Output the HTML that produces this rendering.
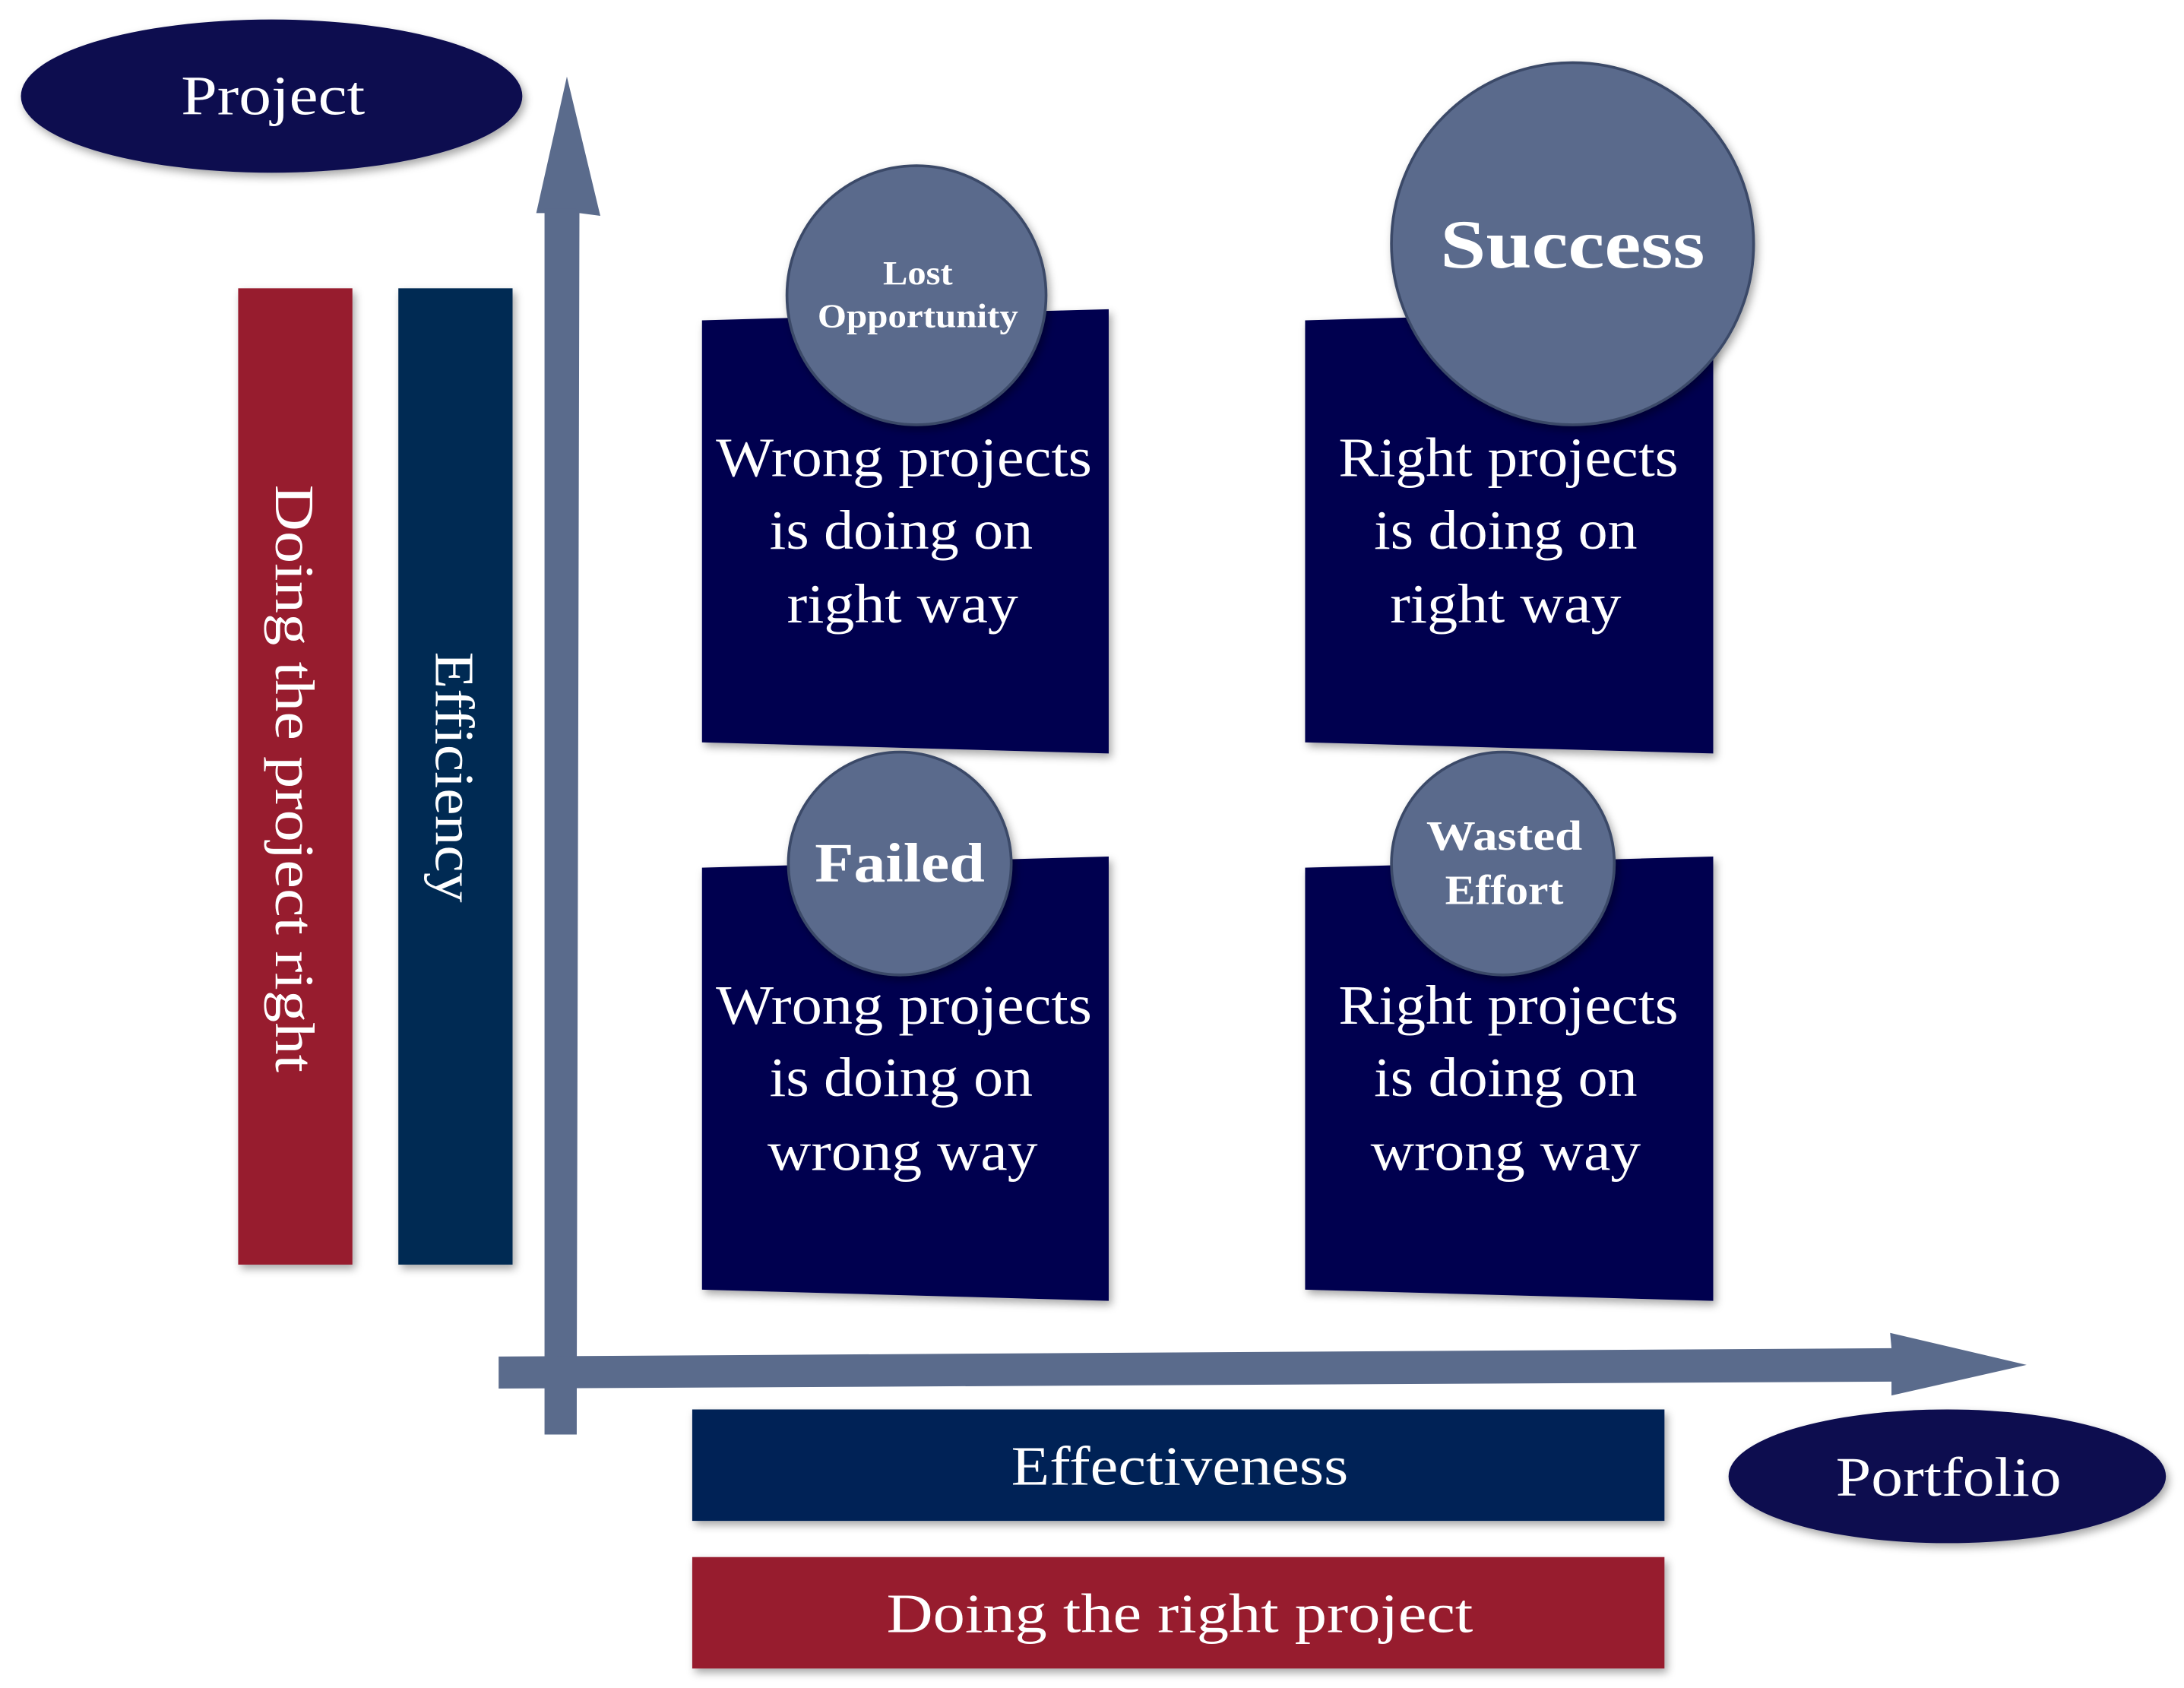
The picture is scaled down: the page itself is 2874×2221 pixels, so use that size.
<!DOCTYPE html>
<html><head><meta charset="utf-8"><style>
html,body{margin:0;padding:0;background:#fff;}
svg{display:block;}
text{font-family:"Liberation Serif",serif;fill:#fff;}
</style></head><body>
<svg width="2874" height="2221" viewBox="0 0 1568 1212" preserveAspectRatio="none" xmlns="http://www.w3.org/2000/svg">
<defs>
<filter id="sh" x="-20%" y="-20%" width="140%" height="140%"><feDropShadow dx="2" dy="3" stdDeviation="3" flood-color="#000" flood-opacity="0.35"/></filter>
</defs>
<ellipse cx="195" cy="69" rx="180" ry="55" fill="#0c1050" filter="url(#sh)"/>
<text x="196" y="82" font-size="40" text-anchor="middle" textLength="132" lengthAdjust="spacingAndGlyphs">Project</text>
<rect x="171" y="207" width="82" height="701" fill="#971b2f" filter="url(#sh)"/>
<text transform="translate(198,559) rotate(90)" font-size="40" text-anchor="middle" textLength="422" lengthAdjust="spacingAndGlyphs">Doing the project right</text>
<rect x="286" y="207" width="82" height="701" fill="#062a52" filter="url(#sh)"/>
<text transform="translate(313,558) rotate(90)" font-size="40" text-anchor="middle" textLength="180" lengthAdjust="spacingAndGlyphs">Efficiency</text>
<polygon points="391,1030 414,1030 416,153 431,155 407,55 385,153 398,153 391,153" fill="#5a6b8c"/>
<rect x="391" y="150" width="23" height="880" fill="#5a6b8c"/>
<polygon points="358,974 1358,968 1357,957 1455,980 1358,1002 1358,992 358,997" fill="#5a6b8c"/>
<polygon points="504,230 796,222 796,541 504,533" fill="#030550" filter="url(#sh)"/>
<polygon points="937,230 1230,222 1230,541 937,533" fill="#030550" filter="url(#sh)"/>
<polygon points="504,623 796,615 796,934 504,926" fill="#030550" filter="url(#sh)"/>
<polygon points="937,623 1230,615 1230,934 937,926" fill="#030550" filter="url(#sh)"/>
<g font-size="40" text-anchor="middle" lengthAdjust="spacingAndGlyphs">
<text x="649" y="342" textLength="270" lengthAdjust="spacingAndGlyphs">Wrong projects</text><text x="647" y="394" textLength="189" lengthAdjust="spacingAndGlyphs">is doing on</text><text x="648" y="447" textLength="166" lengthAdjust="spacingAndGlyphs">right way</text>
<text x="1083" y="342" textLength="244" lengthAdjust="spacingAndGlyphs">Right projects</text><text x="1081" y="394" textLength="189" lengthAdjust="spacingAndGlyphs">is doing on</text><text x="1081" y="447" textLength="166" lengthAdjust="spacingAndGlyphs">right way</text>
<text x="649" y="735" textLength="270" lengthAdjust="spacingAndGlyphs">Wrong projects</text><text x="647" y="787" textLength="189" lengthAdjust="spacingAndGlyphs">is doing on</text><text x="648" y="840" textLength="194" lengthAdjust="spacingAndGlyphs">wrong way</text>
<text x="1083" y="735" textLength="244" lengthAdjust="spacingAndGlyphs">Right projects</text><text x="1081" y="787" textLength="189" lengthAdjust="spacingAndGlyphs">is doing on</text><text x="1081" y="840" textLength="194" lengthAdjust="spacingAndGlyphs">wrong way</text>
</g>
<g fill="#5a6a8c" stroke="#3b4a68" stroke-width="2" filter="url(#sh)">
<circle cx="658" cy="212" r="93"/>
<circle cx="1129" cy="175" r="130"/>
<circle cx="646" cy="620" r="80"/>
<circle cx="1079" cy="620" r="80"/>
</g>
<g font-weight="bold" text-anchor="middle">
<text x="659" y="204" font-size="24" textLength="50" lengthAdjust="spacingAndGlyphs">Lost</text>
<text x="659" y="235" font-size="24" textLength="144" lengthAdjust="spacingAndGlyphs">Opportunity</text>
<text x="1129" y="192" font-size="50" textLength="190" lengthAdjust="spacingAndGlyphs">Success</text>
<text x="646" y="633" font-size="40" textLength="122" lengthAdjust="spacingAndGlyphs">Failed</text>
<text x="1080" y="610" font-size="30" textLength="112" lengthAdjust="spacingAndGlyphs">Wasted</text>
<text x="1080" y="649" font-size="30" textLength="85" lengthAdjust="spacingAndGlyphs">Effort</text>
</g>
<rect x="497" y="1012" width="698" height="80" fill="#062057" filter="url(#sh)"/>
<text x="847" y="1066" font-size="40" text-anchor="middle" textLength="242" lengthAdjust="spacingAndGlyphs">Effectiveness</text>
<rect x="497" y="1118" width="698" height="80" fill="#971b2f" filter="url(#sh)"/>
<text x="847" y="1172" font-size="40" text-anchor="middle" textLength="421" lengthAdjust="spacingAndGlyphs">Doing the right project</text>
<ellipse cx="1398" cy="1060" rx="157" ry="48" fill="#0c1050" filter="url(#sh)"/>
<text x="1399" y="1074" font-size="40" text-anchor="middle" textLength="162" lengthAdjust="spacingAndGlyphs">Portfolio</text>
</svg>
</body></html>
